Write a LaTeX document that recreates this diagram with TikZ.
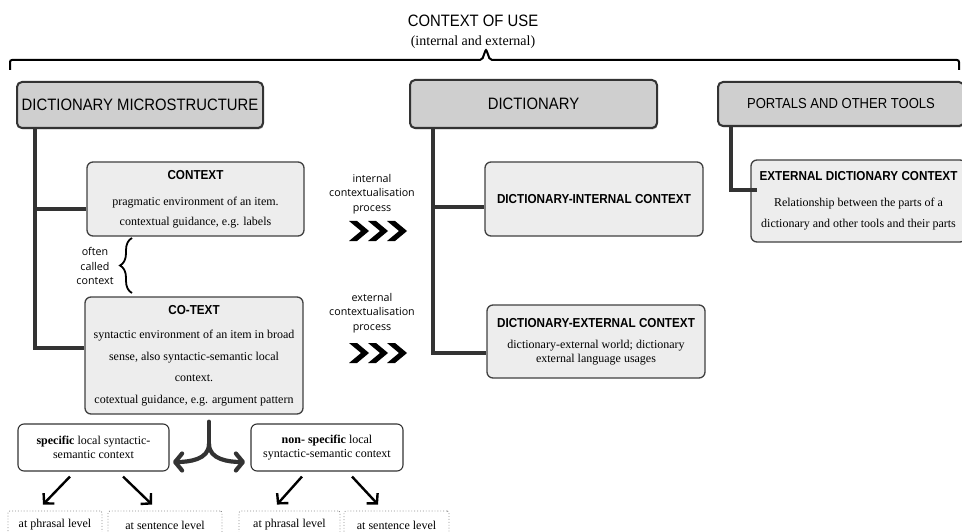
\documentclass[tikz,border=0pt]{standalone}
\usepackage{fontspec}
\setmainfont{Liberation Serif}
\newfontfamily\condsans[FakeStretch=0.9]{Liberation Sans}
\newfontfamily\labsans{Open Sans}
\usetikzlibrary{arrows.meta,decorations.pathreplacing,shadows}

\definecolor{hdrgray}{HTML}{CFCFCF}
\definecolor{boxgray}{HTML}{EDEDED}
\definecolor{linegray}{HTML}{333333}

\newcommand{\boxtitle}[1]{{\condsans\bfseries\fontsize{13}{14}\selectfont #1}}

\tikzset{
  hdrbox/.style={draw=linegray, line width=2pt, fill=hdrgray, rounded corners=5pt,
    inner sep=0pt, drop shadow={shadow xshift=0.8pt, shadow yshift=-1.4pt, fill=black!70},
    font=\condsans\fontsize{16.5}{19}\selectfont},
  subbox/.style={draw=black!75, line width=1.3pt, fill=boxgray, rounded corners=6pt,
    inner sep=0pt, align=center},
  levelbox/.style={draw=black!80, line width=1.1pt, fill=white, rounded corners=6pt,
    inner sep=0pt, align=center, minimum width=151, minimum height=47,
    font=\fontsize{12}{13.5}\selectfont},
  leafbox/.style={draw=black!45, line width=0.9pt, dotted, rounded corners=2pt,
    inner sep=0pt, minimum height=28, font=\fontsize{12}{14}\selectfont},
  proclab/.style={align=center, font=\labsans\fontsize{10.7}{14.5}\selectfont},
  trunk/.style={draw=linegray, line width=3.2pt},
  fork/.style={draw=linegray, line width=4.2pt, line cap=round,
    -{Straight Barb[length=7pt, width=17pt, line join=round, line cap=round]}},
  split/.style={draw=black, line width=2.4pt,
    -{Straight Barb[length=7pt, width=15pt]}}
}

\begin{document}
\begin{tikzpicture}[x=1pt, y=-1pt]
    \useasboundingbox (0,0) rectangle (962,532);
    \clip (0,0) rectangle (962,532);

    % Context of use
    \node[font=\condsans\fontsize{16.5}{19}\selectfont] (use) at (473,21) {CONTEXT OF USE};
    \node[font=\fontsize{14}{16}\selectfont] (usesub) at (473,42) {(internal and external)};
    \coordinate (useL) at (10,70);
    \coordinate (useR) at (959,70);
    \coordinate (usetip) at (486,49);
    \draw[line width=2pt, rounded corners=2pt] (useL) |- ([xshift=-4pt, yshift=-11pt]usetip)
        -- (usetip) -- ([xshift=4pt, yshift=-11pt]usetip) -| (useR);

    % Header boxes
    \node[hdrbox, minimum width=246, minimum height=46] (micro) at (140,105) {DICTIONARY MICROSTRUCTURE};
    \node[hdrbox, minimum width=247, minimum height=48] (dict) at (533.5,104) {DICTIONARY};
    \node[hdrbox, minimum width=246, minimum height=44,
          font=\condsans\fontsize{14.5}{17}\selectfont] (portals) at (841,104) {PORTALS AND OTHER TOOLS};

    % Microstructure boxes
    \node[subbox, minimum width=217, minimum height=74, font=\fontsize{12}{20}\selectfont] (ctx) at (195.5,199)
        {\boxtitle{CONTEXT}\\[6pt] pragmatic environment of an item.\\ contextual guidance, e.g. labels};
    \node[subbox, minimum width=218, minimum height=117, font=\fontsize{12}{21.5}\selectfont] (cotext) at (194,355.5)
        {\boxtitle{CO-TEXT}\\[3pt] syntactic environment of an item in broad\\ sense, also syntactic-semantic local\\
         context.\\ cotextual guidance, e.g. argument pattern};

    % Dictionary boxes
    \node[subbox, minimum width=218, minimum height=74] (dint) at (594,199) {\boxtitle{DICTIONARY-INTERNAL CONTEXT}};
    \node[subbox, minimum width=218, minimum height=73, font=\fontsize{12}{13.5}\selectfont] (dext) at (596,341.5)
        {\boxtitle{DICTIONARY-EXTERNAL CONTEXT}\\[8pt] dictionary-external world; dictionary\\ external language usages};

    % Portals box
    \node[subbox, minimum width=215, minimum height=82, font=\fontsize{12}{21}\selectfont] (extdict) at (858.5,201)
        {\boxtitle{EXTERNAL DICTIONARY CONTEXT}\\[5pt] Relationship between the parts of a\\ dictionary and other tools and their parts};

    % Trunk lines
    \draw[trunk] ([xshift=19pt]micro.south west) |- ([yshift=7.5pt]cotext.west);
    \draw[trunk] ([xshift=19pt]micro.south west) |- ([yshift=-10pt]ctx.west);
    \draw[trunk] ([xshift=24pt]dict.south west) |- ([yshift=-11.5pt]dext.west);
    \draw[trunk] ([xshift=24pt]dict.south west) |- ([yshift=-8pt]dint.west);
    \draw[trunk] ([xshift=14pt]portals.south west) |- ([xshift=7pt, yshift=11pt]extdict.west);

    % Often called context
    \draw[line width=1.8pt, decorate, decoration={brace, amplitude=12pt}] (132,293) -- (132,238);
    \node[proclab] (often) at (95,266) {often\\called\\context};

    % Contextualisation processes
    \node[proclab] (intlab) at (372,194) {internal\\contextualisation\\process};
    \node[proclab] (extlab) at (372,313) {external\\contextualisation\\process};
    \foreach \cy in {231,353}
      \foreach \cx in {349,368,387}
        \fill (\cx,\cy) +(0,-10) -- +(8,-10) -- +(20,0) -- +(8,10) -- +(0,10) -- +(12,0) -- cycle;

    % Local syntactic-semantic context
    \node[levelbox] (spec) at (93.5,447.5) {\textbf{specific} local syntactic-\\ semantic context};
    \node[levelbox, minimum width=152] (nonspec) at (327,447.5) {\textbf{non- specific} local\\ syntactic-semantic context};

    \coordinate (forkmid) at (209,444);
    \coordinate (forkL) at (173,462);
    \coordinate (forkR) at (245,462);
    \draw[fork, -] ([xshift=15pt, yshift=-7pt]cotext.south) -- (forkmid);
    \draw[fork] (forkmid) to[out=-90, in=0] (forkL);
    \draw[fork] (forkmid) to[out=-90, in=180] (forkR);

    % Levels
    \node[leafbox, minimum width=94] (phr1) at (55,525) {at phrasal level};
    \node[leafbox, minimum width=114] (sen1) at (165,525) {at sentence level};
    \node[leafbox, minimum width=101] (phr2) at (289.5,525) {at phrasal level};
    \node[leafbox, minimum width=105] (sen2) at (396.5,525) {at sentence level};

    \draw[split] ([xshift=-23.5pt, yshift=-5pt]spec.south) -- ([xshift=-12pt, yshift=6pt]phr1.north);
    \draw[split] ([xshift=29.5pt, yshift=-5pt]spec.south) -- ([xshift=-13pt, yshift=6pt]sen1.north);
    \draw[split] ([xshift=-25pt, yshift=-5pt]nonspec.south) -- ([xshift=-12.5pt, yshift=6pt]phr2.north);
    \draw[split] ([xshift=25pt, yshift=-5pt]nonspec.south) -- ([xshift=-18.5pt, yshift=6pt]sen2.north);
\end{tikzpicture}
\end{document}
